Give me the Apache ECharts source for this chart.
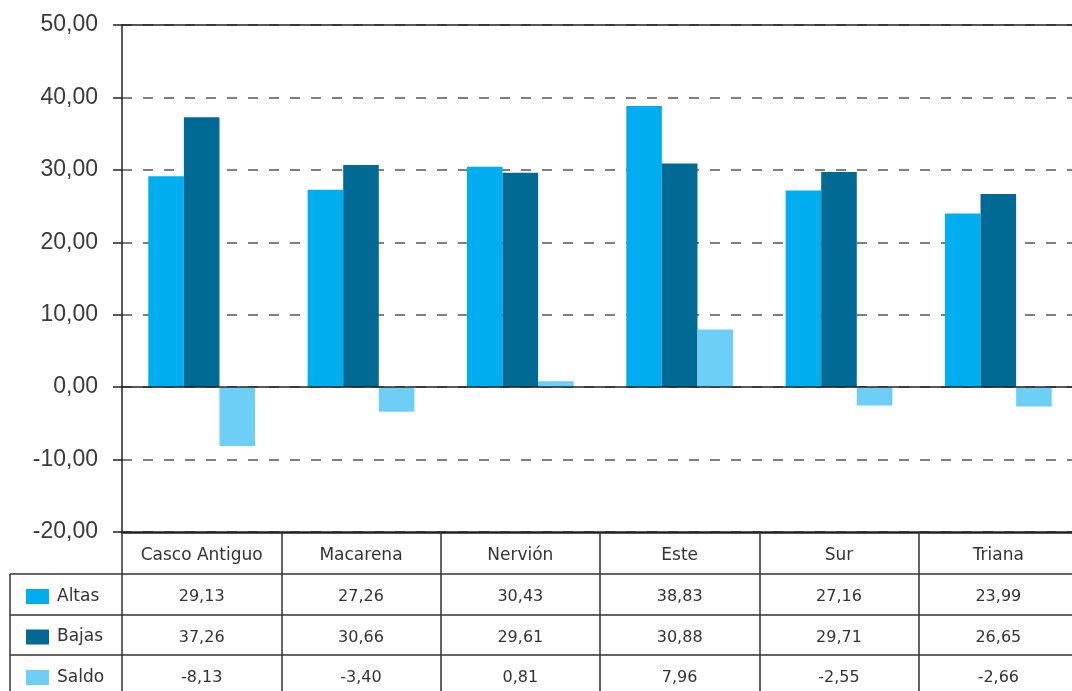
<!DOCTYPE html>
<html>
<head>
<meta charset="utf-8">
<script src="https://cdn.jsdelivr.net/npm/echarts@6/dist/echarts.min.js"></script>
<style>
  html, body { margin: 0; padding: 0; background: #fff; }
  #chart { width: 1072px; height: 691px; }
</style>
</head>
<body>
<div id="chart"></div>
<script>
// datos
var categories = ['Casco Antiguo', 'Macarena', 'Nervión', 'Este', 'Sur', 'Triana'];
var altas = [29.13, 27.26, 30.43, 38.83, 27.16, 23.99];
var bajas = [37.26, 30.66, 29.61, 30.88, 29.71, 26.65];
var saldo = [-8.13, -3.40, 0.81, 7.96, -2.55, -2.66];
var yMin = -20, yMax = 50, yStep = 10;

var colors = ['#00aeef', '#006a94', '#6dcff6'];
var tableFont = 'DejaVu Sans';
var lineColor = '#333';

function fmt(v) {
	return v.toFixed(2).replace('.', ',');
}

// eje de la tabla (una fila por eje)
function tableAxis(data, offset) {
	return {
		type: 'category',
		gridIndex: 0,
		position: 'bottom',
		offset: offset,
		data: data,
		axisLine: { show: true, onZero: false, lineStyle: { color: lineColor, width: 1.5 } },
		axisTick: { show: true, interval: 0, length: 41, lineStyle: { color: lineColor, width: 1.5 } },
		axisLabel: { interval: 0, margin: 15, fontFamily: tableFont, fontSize: 16, color: '#333' },
		splitLine: { show: false }
	};
}

var myChart = echarts.init(document.getElementById('chart'));

var xCat = tableAxis(categories, 0);
xCat.axisLine.lineStyle.width = 2.5;
xCat.axisLine.lineStyle.color = '#222';
xCat.axisTick.length = 42;
xCat.axisLabel.margin = 15;
xCat.axisLabel.fontSize = 17;

var option = {
	animation: false,
	color: colors,
	grid: { left: 122, right: -6, top: 25, bottom: 159, containLabel: false, outerBoundsMode: 'none' },
	legend: {
		orient: 'vertical',
		left: 26,
		top: 588,
		padding: 0,
		height: 103,
		itemWidth: 23,
		itemHeight: 15,
		itemGap: 23.5,
		icon: 'rect',
		selectedMode: false,
		textStyle: { fontFamily: tableFont, fontSize: 17, lineHeight: 15, color: '#333', padding: [0, 0, 0, 3] },
		data: ['Altas', 'Bajas', 'Saldo']
	},
	xAxis: [
		xCat,
		tableAxis(altas.map(fmt), 42),
		tableAxis(bajas.map(fmt), 83),
		tableAxis(saldo.map(fmt), 123)
	],
	yAxis: {
		type: 'value',
		min: yMin,
		max: yMax,
		interval: yStep,
		axisLine: { show: true, lineStyle: { color: '#222', width: 1.5 } },
		axisTick: { show: true, length: 9, lineStyle: { color: '#222', width: 1.5 } },
		axisLabel: {
			margin: 24,
			fontFamily: 'Liberation Sans',
			fontSize: 23,
			color: '#3a3a3a',
			formatter: function(v) { return fmt(v); }
		},
		splitLine: { show: true, lineStyle: { color: '#555', width: 1.5, type: [10, 11] } }
	},
	graphic: [
		// columna de la leyenda
		{ type: 'line', shape: { x1: 10, y1: 574, x2: 122, y2: 574 }, style: { stroke: lineColor, lineWidth: 1.5 } },
		{ type: 'line', shape: { x1: 10, y1: 615, x2: 122, y2: 615 }, style: { stroke: lineColor, lineWidth: 1.5 } },
		{ type: 'line', shape: { x1: 10, y1: 655, x2: 122, y2: 655 }, style: { stroke: lineColor, lineWidth: 1.5 } },
		{ type: 'line', shape: { x1: 10, y1: 574, x2: 10, y2: 691 }, style: { stroke: lineColor, lineWidth: 1.5 } }
	],
	series: [
		{
			name: 'Altas',
			type: 'bar',
			xAxisIndex: 0,
			data: altas,
			barGap: 0,
			barCategoryGap: '33%',
			markLine: {
				silent: true,
				symbol: 'none',
				label: { show: false },
				lineStyle: { color: '#222', width: 1.5, type: 'solid' },
				data: [{ yAxis: 0 }, { yAxis: yMax }]
			}
		},
		{ name: 'Bajas', type: 'bar', xAxisIndex: 0, data: bajas, barGap: 0, barCategoryGap: '33%' },
		{ name: 'Saldo', type: 'bar', xAxisIndex: 0, data: saldo, barGap: 0, barCategoryGap: '33%' }
	]
};

myChart.setOption(option);
</script>
</body>
</html>
